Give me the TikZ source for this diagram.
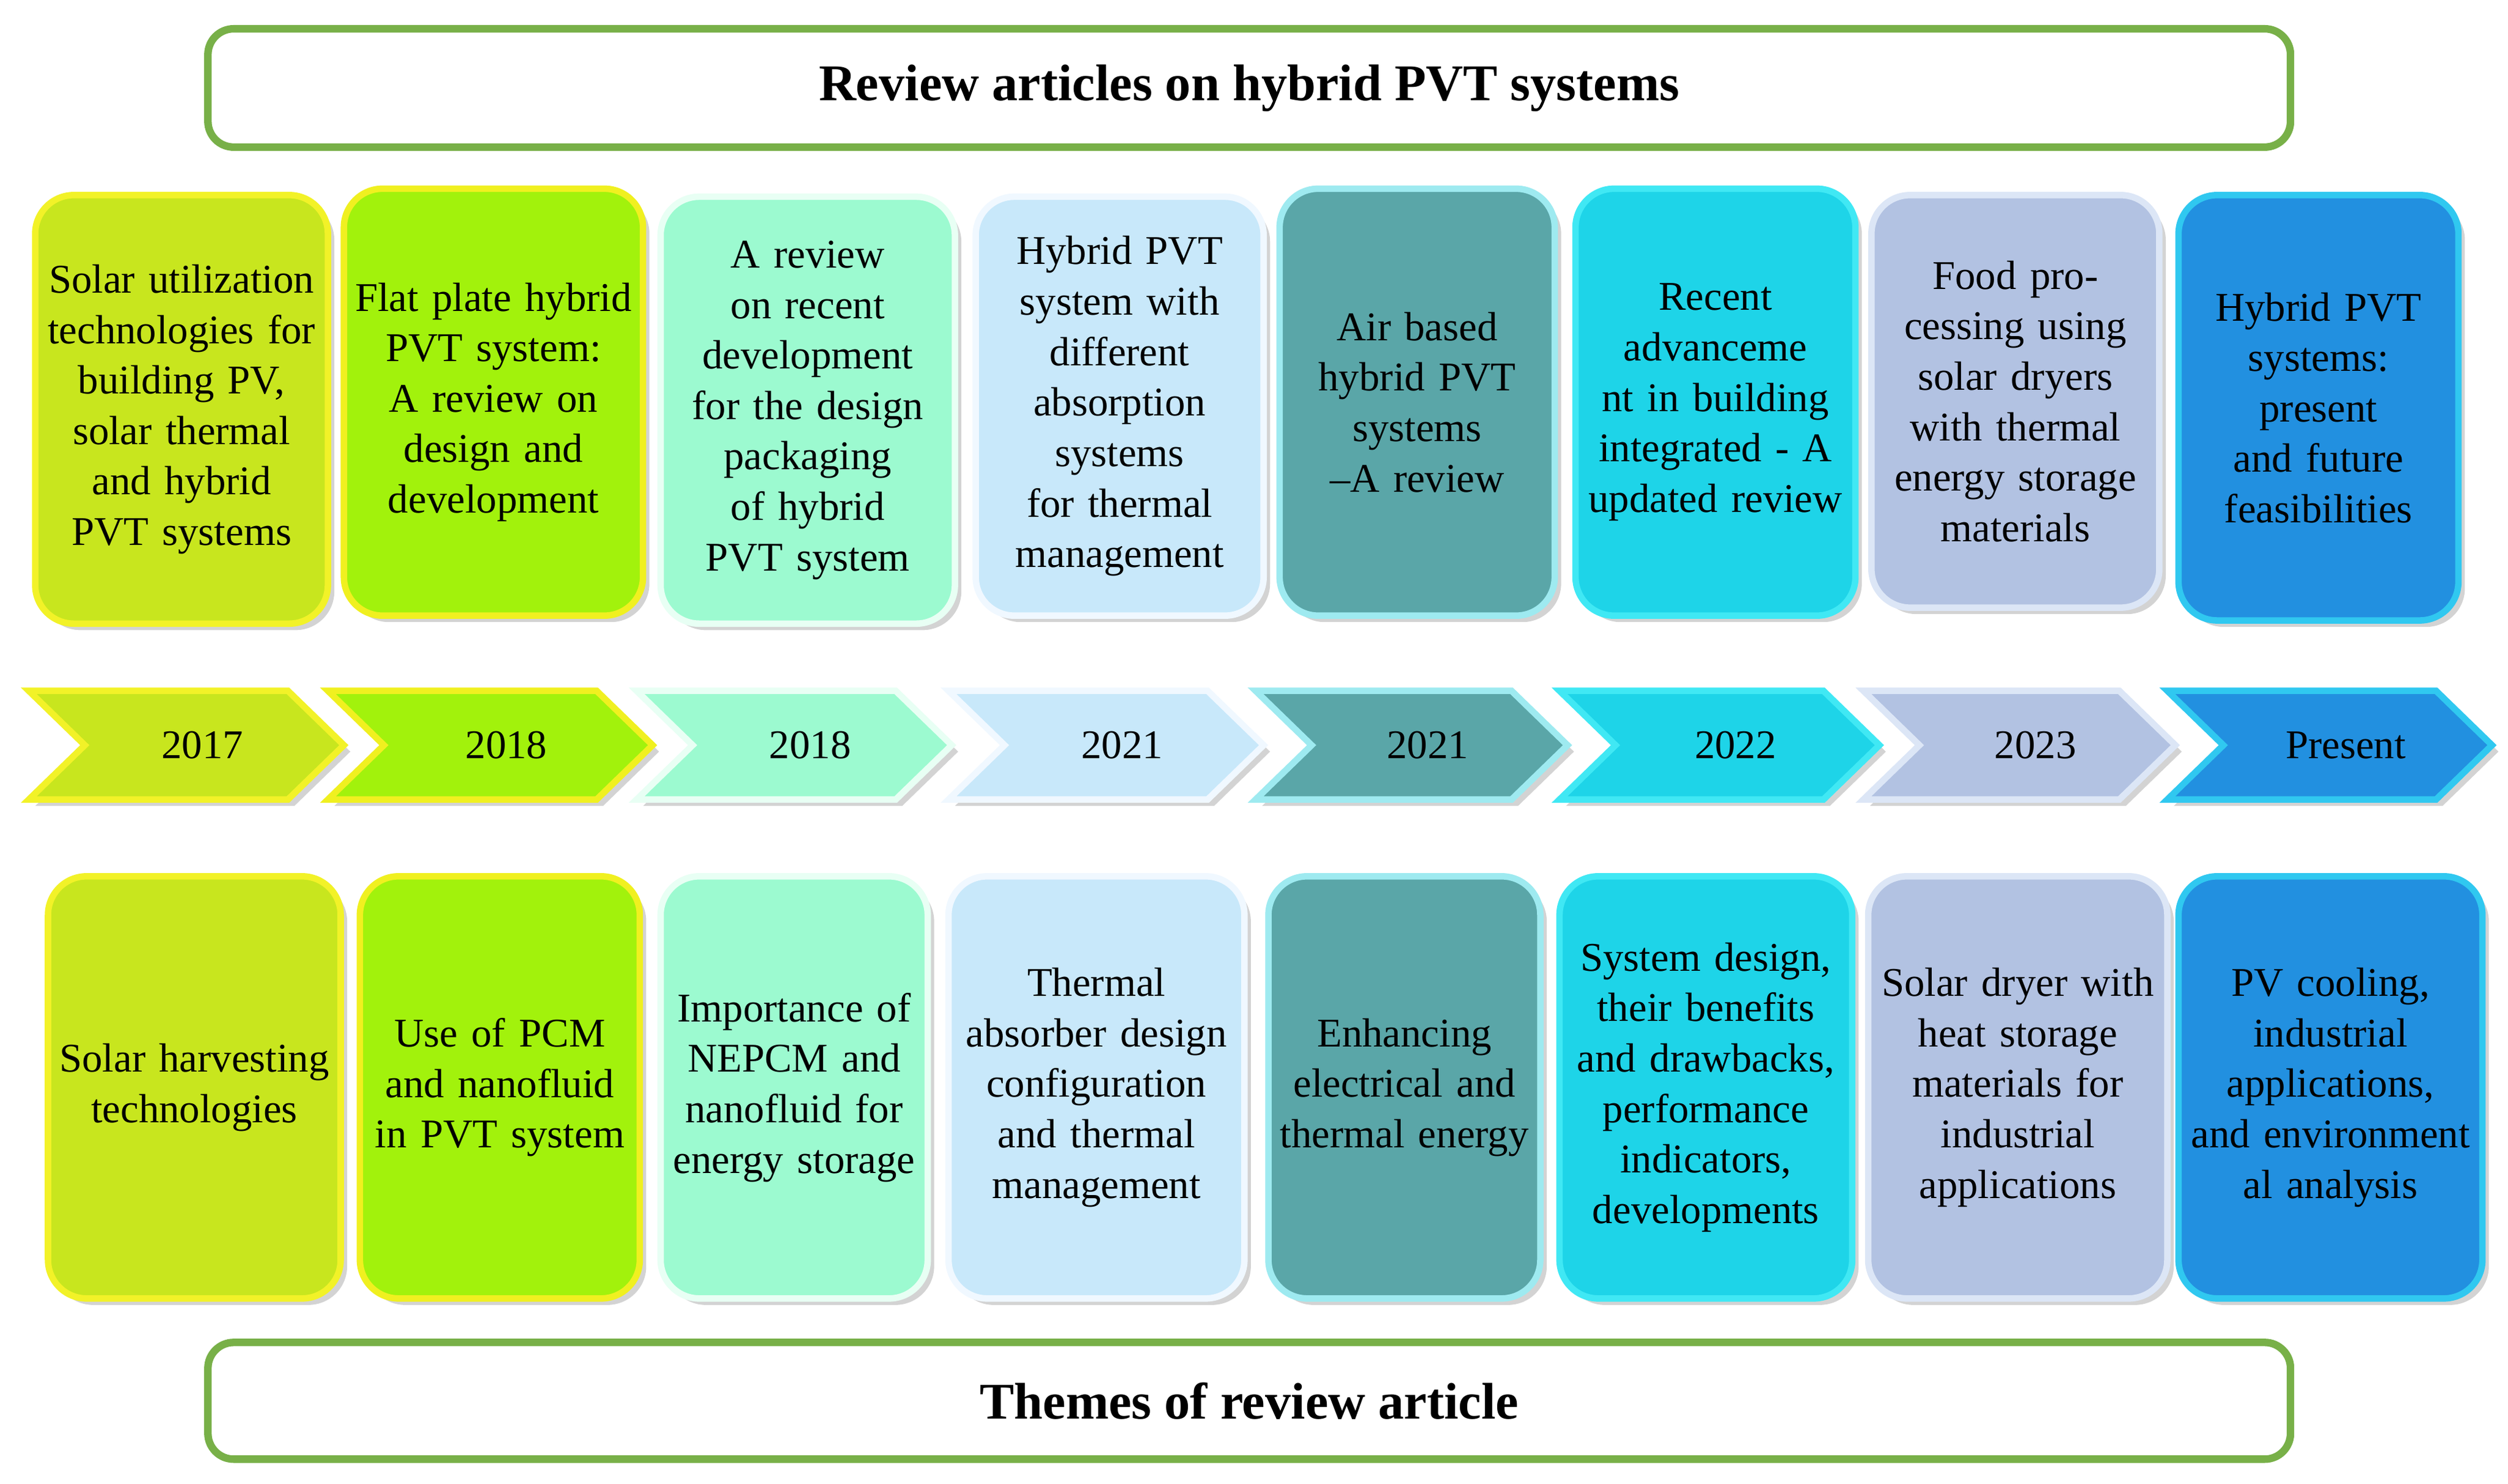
\documentclass[tikz,border=0pt]{standalone}
\usepackage{fontspec}
\setmainfont{Liberation Serif}
\usetikzlibrary{shadows}
\newcommand\pxu{0.02617cm}
\tikzset{
 bx/.style={rounded corners=18pt, line width=3pt, align=center, inner sep=2pt,
   font=\fontsize{19}{23.5}\selectfont, drop shadow={shadow xshift=3pt,shadow yshift=-3pt,opacity=0.35}},
 ttl/.style={draw=green!50!black!60!lime, line width=3.5pt, rounded corners=12pt, font=\fontsize{24}{28}\selectfont\bfseries},
 yr/.style={font=\fontsize{19}{23}\selectfont},
 chev/.style={line width=3pt, drop shadow={shadow xshift=3pt,shadow yshift=-3pt,opacity=0.35}}
}
\definecolor{c1}{HTML}{C8E61E}\definecolor{b1}{HTML}{F2F228}
\definecolor{c2}{HTML}{A2F20C}\definecolor{b2}{HTML}{F0F020}
\definecolor{c3}{HTML}{9CFAD0}\definecolor{b3}{HTML}{E8FFF4}
\definecolor{c4}{HTML}{C8E8FA}\definecolor{b4}{HTML}{F0F8FF}
\definecolor{c5}{HTML}{5AA6A8}\definecolor{b5}{HTML}{9EEAF0}
\definecolor{c6}{HTML}{1ED4E8}\definecolor{b6}{HTML}{40E8F4}
\definecolor{c7}{HTML}{B2C2E2}\definecolor{b7}{HTML}{DCE6F6}
\definecolor{c8}{HTML}{2290E0}\definecolor{b8}{HTML}{30C8F0}
\definecolor{tg}{HTML}{78B048}
% name, x0, y0, x1, y1, color index, text
\newcommand\tb[7]{\node[bx, fill=c#6, draw=b#6, minimum width={(#4-#2)*\pxu}, minimum height={(#5-#3)*\pxu}, text width={(#4-#2-14)*\pxu}]
  (#1) at ({(#2+#4)/2},{(#3+#5)/2}) {#7};}
\newcommand\ch[5]{% name x0 x1 color text
 \draw[chev, fill=c#4, draw=b#4] (#2,432) -- (#3-35,432) -- (#3,466) -- (#3-35,500) -- (#2,500) -- (#2+35,466) -- cycle;
 \node[yr] (#1) at ({(#2+#3)/2+10},466) {#5};}
\begin{document}
\begin{tikzpicture}[x=\pxu,y=-\pxu]
\useasboundingbox (0,0) rectangle (1568,928);
\node[ttl, draw=tg, minimum width={1302*\pxu}, minimum height={74*\pxu}] (title) at (781,55) {Review articles on hybrid PVT systems};
\node[ttl, draw=tg, minimum width={1302*\pxu}, minimum height={73*\pxu}] (themes) at (781,876) {Themes of review article};

\tb{t1}{22}{122}{205}{390}{1}{Solar utilization technologies for building PV, solar thermal and hybrid PVT systems}
\tb{t2}{215}{118}{402}{385}{2}{Flat plate hybrid PVT system: A review on design and development}
\tb{t3}{413}{123}{597}{390}{3}{A review on recent development for the design packaging of hybrid PVT system}
\tb{t4}{610}{123}{790}{385}{4}{Hybrid PVT system with different absorption systems for thermal management}
\tb{t5}{800}{118}{972}{385}{5}{Air based hybrid PVT systems --A review}
\tb{t6}{985}{118}{1160}{385}{6}{Recent advanceme\\nt in building integrated - A updated review}
\tb{t7}{1170}{122}{1350}{380}{7}{Food processing using solar dryers with thermal energy storage materials}
\tb{t8}{1362}{122}{1537}{388}{8}{Hybrid PVT systems: present and future feasibilities}

\ch{y1}{18}{215}{1}{2017}
\ch{y2}{205}{408}{2}{2018}
\ch{y3}{398}{595}{3}{2018}
\ch{y4}{593}{790}{4}{2021}
\ch{y5}{785}{980}{5}{2021}
\ch{y6}{975}{1175}{6}{2022}
\ch{y7}{1165}{1360}{7}{2023}
\ch{y8}{1355}{1558}{8}{Present}

\tb{m1}{30}{548}{213}{812}{1}{Solar harvesting technologies}
\tb{m2}{225}{548}{400}{812}{2}{Use of PCM and nanofluid in PVT system}
\tb{m3}{413}{548}{580}{812}{3}{Importance of NEPCM and nanofluid for energy storage}
\tb{m4}{593}{548}{778}{812}{4}{Thermal absorber design configuration and thermal management}
\tb{m5}{793}{548}{963}{812}{5}{Enhancing electrical and thermal energy}
\tb{m6}{975}{548}{1158}{812}{6}{System design, their benefits and drawbacks, performance indicators, developments}
\tb{m7}{1168}{548}{1355}{812}{7}{Solar dryer with heat storage materials for industrial applications}
\tb{m8}{1362}{548}{1552}{812}{8}{PV cooling, industrial applications, and environment\\al analysis}
\end{tikzpicture}
\end{document}
